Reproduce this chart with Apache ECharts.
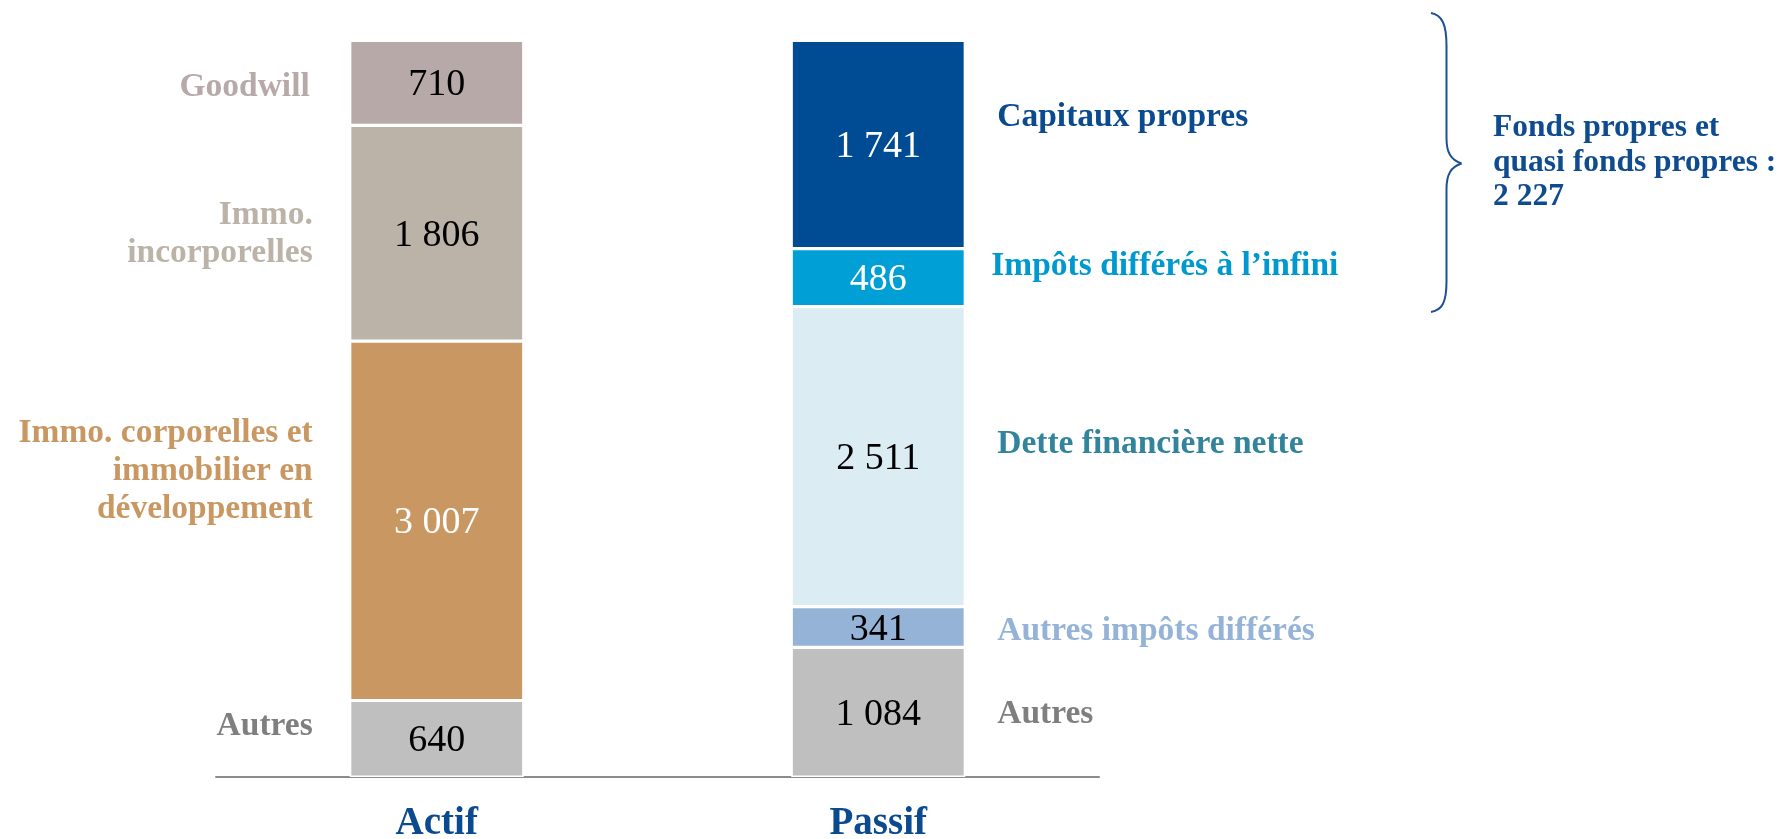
<!DOCTYPE html>
<html>
<head>
<meta charset="utf-8">
<title>Actif / Passif</title>
<script src="https://cdn.jsdelivr.net/npm/echarts@6/dist/echarts.min.js"></script>
<style>
  html, body { margin: 0; padding: 0; background: #ffffff; }
  #chart { width: 1781px; height: 839px; }
</style>
</head>
<body>
<div id="chart"></div>
<script>
// ---- Data (bottom segment first) ----
const categories = ['Actif', 'Passif'];

const actifNames = [
  'Autres',
  'Immo. corporelles et\nimmobilier en\ndéveloppement',
  'Immo.\nincorporelles',
  'Goodwill'
];
const actifValues = [640, 3007, 1806, 710];

const passifNames = [
  'Autres',
  'Autres impôts différés',
  'Dette financière nette',
  'Impôts différés à l’infini',
  'Capitaux propres'
];
const passifValues = [1084, 341, 2511, 486, 1741];

const fondsPropresTitle = 'Fonds propres et\nquasi fonds propres :';

// ---- Styles (same order as the data) ----
const actifStyles = [
  { bar: '#bfbfbf', name: '#7f7f7f', value: '#000000', dy: -12, dx: 0 },
  { bar: '#c99762', name: '#c99762', value: '#ffffff', dy: -50, dx: 0 },
  { bar: '#bbb3a8', name: '#bbb3a8', value: '#000000', dy: 1, dx: 0 },
  { bar: '#b8a9a9', name: '#b8a9a9', value: '#000000', dy: 4, dx: -3 }
];
const passifStyles = [
  { bar: '#bfbfbf', name: '#7f7f7f', value: '#000000', dy: 2, dx: 0 },
  { bar: '#95b3d7', name: '#95b3d7', value: '#000000', dy: 4, dx: 0 },
  { bar: '#dbecf3', name: '#31849b', value: '#000000', dy: -12, dx: 0 },
  { bar: '#009fd5', name: '#0099cf', value: '#ffffff', dy: -11, dx: -6 },
  { bar: '#004c94', name: '#0a4a8e', value: '#ffffff', dy: -27, dx: 0 }
];

const SERIF = "'Liberation Serif', 'DejaVu Serif', serif";
const BLUE = '#0b4a8f';
const BAR_WIDTH = 174;
const NAME_OFFSET = [-124, 119]; // side-name anchor relative to the category centre

function fmt(v) {
  return String(v).replace(/\B(?=(\d{3})+(?!\d))/g, ' ');
}

// ---- Stacked bar series (one stack; each series only fills its own column) ----
const series = [];
function addBars(catIndex, names, values, styles) {
  values.forEach((v, i) => {
    const data = categories.map((c, k) => (k === catIndex ? v : '-'));
    series.push({
      name: names[i],
      type: 'bar',
      stack: 'bilan',
      barWidth: BAR_WIDTH,
      data: data,
      itemStyle: { color: styles[i].bar, borderColor: '#ffffff', borderWidth: 1.6 },
      label: {
        show: true, position: 'inside',
        offset: [0, 2.5],
        formatter: p => fmt(p.value),
        color: styles[i].value, fontFamily: SERIF, fontSize: 38
      }
    });
  });
}
addBars(0, actifNames, actifValues, actifStyles);
addBars(1, passifNames, passifValues, passifStyles);

// ---- Segment names beside each bar (placed at the segment centre) ----
const nameItems = [];
function addNames(catIndex, names, values, styles) {
  let base = 0;
  values.forEach((v, i) => {
    nameItems.push({
      value: [catIndex, base + v / 2],
      text: names[i],
      style: styles[i]
    });
    base += v;
  });
}
addNames(0, actifNames, actifValues, actifStyles);
addNames(1, passifNames, passifValues, passifStyles);

series.push({
  type: 'custom',
  silent: true,
  clip: false,
  z: 10,
  encode: { x: 0, y: 1 },
  data: nameItems.map(d => d.value),
  renderItem: function (params, api) {
    const item = nameItems[params.dataIndex];
    const cat = api.value(0);
    const p = api.coord([cat, api.value(1)]);
    return {
      type: 'text',
      x: p[0] + NAME_OFFSET[cat] + item.style.dx,
      y: p[1] + item.style.dy,
      style: {
        text: item.text,
        fill: item.style.name,
        fontFamily: SERIF,
        fontWeight: 'bold',
        fontSize: 33.5,
        lineHeight: 38,
        align: cat === 0 ? 'right' : 'left',
        verticalAlign: 'middle'
      }
    };
  }
});

const total = actifValues.reduce((a, b) => a + b, 0);
const fondsPropres = passifValues[3] + passifValues[4];

// Curly brace grouping the equity lines
const braceStyle = { stroke: '#1d5096', lineWidth: 2, fill: null };
const brace = [
  { type: 'bezierCurve', shape: { x1: 1431, y1: 13, cpx1: 1442, cpy1: 15, cpx2: 1446.5, cpy2: 24, x2: 1446.5, y2: 46 }, style: braceStyle },
  { type: 'line', shape: { x1: 1446.5, y1: 46, x2: 1446.5, y2: 138 }, style: braceStyle },
  { type: 'bezierCurve', shape: { x1: 1446.5, y1: 138, cpx1: 1446.5, cpy1: 153, cpx2: 1451, cpy2: 160, x2: 1461.5, y2: 163.5 }, style: braceStyle },
  { type: 'bezierCurve', shape: { x1: 1461.5, y1: 163.5, cpx1: 1451, cpy1: 167, cpx2: 1446.5, cpy2: 174, x2: 1446.5, y2: 189 }, style: braceStyle },
  { type: 'line', shape: { x1: 1446.5, y1: 189, x2: 1446.5, y2: 281 }, style: braceStyle },
  { type: 'bezierCurve', shape: { x1: 1446.5, y1: 281, cpx1: 1446.5, cpy1: 303, cpx2: 1442, cpy2: 310, x2: 1431, y2: 312 }, style: braceStyle }
];

const chart = echarts.init(document.getElementById('chart'), null, { renderer: 'canvas' });
chart.setOption({
  animation: false,
  backgroundColor: '#ffffff',
  grid: {
    left: 216, right: 682, top: 40.5, bottom: 62,
    containLabel: false,
    outerBoundsMode: 'none'
  },
  xAxis: {
    type: 'category',
    data: categories,
    axisTick: { show: false },
    axisLine: { lineStyle: { color: '#8c8c8c', width: 2 } },
    axisLabel: {
      margin: 27,
      fontFamily: SERIF,
      fontWeight: 'bold',
      fontSize: 39,
      color: BLUE
    }
  },
  yAxis: {
    type: 'value',
    min: 0,
    max: total,
    show: false,
    splitLine: { show: false }
  },
  series: series,
  graphic: brace.concat([
    {
      type: 'text',
      left: 1493,
      top: 111,
      style: {
        text: fondsPropresTitle + '\n' + fmt(fondsPropres),
        fill: '#0f4c8f',
        fontFamily: SERIF,
        fontWeight: 'bold',
        fontSize: 31.5,
        lineHeight: 34.5
      }
    }
  ])
});
</script>
</body>
</html>
